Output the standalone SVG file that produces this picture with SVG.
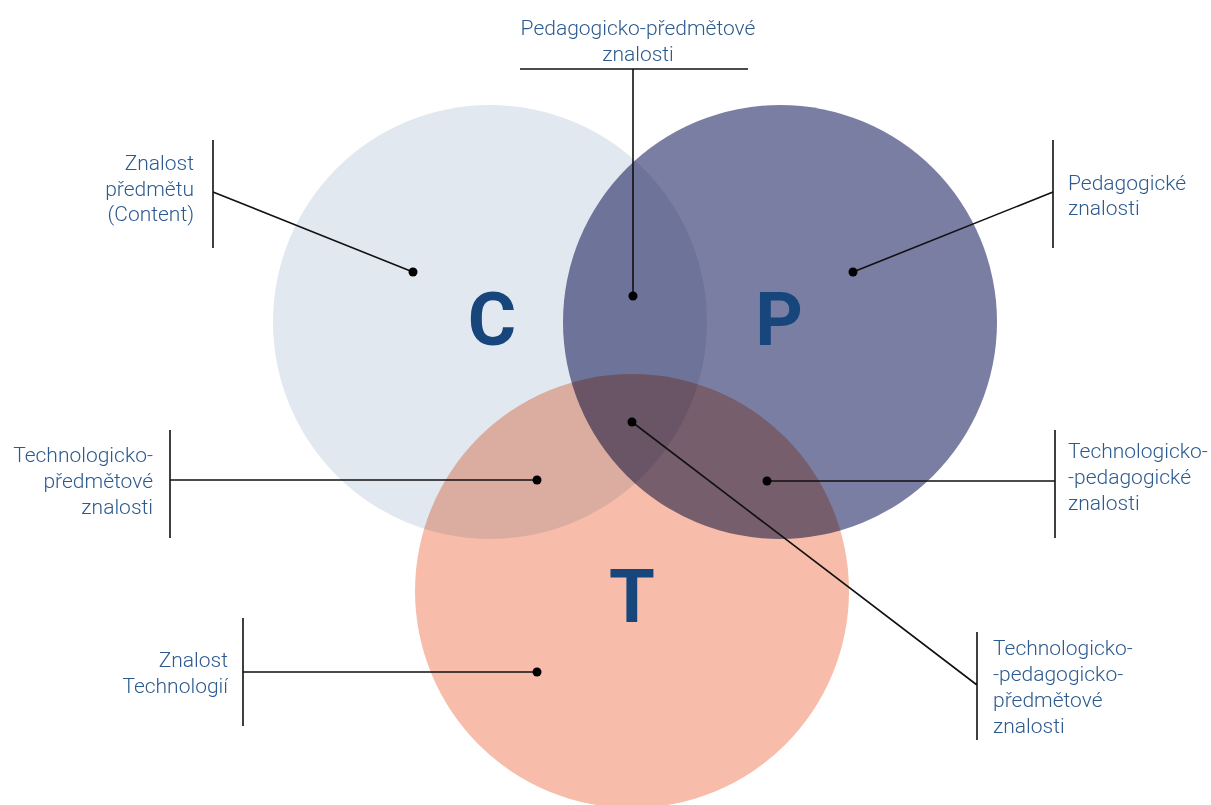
<svg xmlns="http://www.w3.org/2000/svg" width="1211" height="805" viewBox="0 0 1211 805">
  <style>
    .lbl { font-family: Roboto, "Liberation Sans", sans-serif; font-size: 21px; font-weight: 300; fill: #2c5a8f; }
    .big { font-family: Roboto, "Liberation Sans", sans-serif; font-size: 74px; font-weight: 700; fill: #17467c; text-anchor: middle; }
    .ln { stroke: #111; stroke-width: 1.6; fill: none; }
    .circ { mix-blend-mode: multiply; }
    .dot { fill: #000; }
  </style>
  <rect width="1211" height="805" fill="#fff"/>

  <!-- three knowledge circles -->
  <g id="circles" style="isolation:isolate">
    <circle id="circle-c" class="circ" cx="490" cy="322" r="217" fill="#e2e8f0"/>
    <circle id="circle-p" class="circ" cx="780" cy="322" r="217" fill="#7b7ea3"/>
    <circle id="circle-t" class="circ" cx="632" cy="591" r="217" fill="#f7bdaa"/>
  </g>

  <g id="letters">
    <text class="big" x="492" y="345">C</text>
    <text class="big" x="779" y="345">P</text>
    <text class="big" x="632" y="622">T</text>
  </g>

  <!-- leader lines -->
  <g id="connectors">
    <path class="ln" d="M520 69H748M633 69V296"/>
    <path class="ln" d="M213 140V248M213 192L413 272"/>
    <path class="ln" d="M1053 140V248M1053 192L853 272"/>
    <path class="ln" d="M170 430V538M170 480H537"/>
    <path class="ln" d="M1055 430V538M1055 481H767"/>
    <path class="ln" d="M977 632V740M977 685L632 422"/>
    <path class="ln" d="M243 618V726M243 672H537"/>
    <circle class="dot" cx="633" cy="296" r="4.5"/>
    <circle class="dot" cx="413" cy="272" r="4.5"/>
    <circle class="dot" cx="853" cy="272" r="4.5"/>
    <circle class="dot" cx="537" cy="480" r="4.5"/>
    <circle class="dot" cx="767" cy="481" r="4.5"/>
    <circle class="dot" cx="632" cy="422" r="4.5"/>
    <circle class="dot" cx="537" cy="672" r="4.5"/>
  </g>

  <g id="label-cp">
    <text class="lbl" text-anchor="middle" x="638" y="35">Pedagogicko-předmětové</text>
    <text class="lbl" text-anchor="middle" x="638" y="61">znalosti</text>
  </g>
  <g id="label-c">
    <text class="lbl" text-anchor="end" x="194" y="170">Znalost</text>
    <text class="lbl" text-anchor="end" x="194" y="196">předmětu</text>
    <text class="lbl" text-anchor="end" x="194" y="221">(Content)</text>
  </g>
  <g id="label-p">
    <text class="lbl" x="1068" y="190">Pedagogické</text>
    <text class="lbl" x="1068" y="215">znalosti</text>
  </g>
  <g id="label-tc">
    <text class="lbl" text-anchor="end" x="153" y="462">Technologicko-</text>
    <text class="lbl" text-anchor="end" x="153" y="488">předmětové</text>
    <text class="lbl" text-anchor="end" x="153" y="514">znalosti</text>
  </g>
  <g id="label-tp">
    <text class="lbl" x="1068" y="458">Technologicko-</text>
    <text class="lbl" x="1068" y="484">-pedagogické</text>
    <text class="lbl" x="1068" y="510">znalosti</text>
  </g>
  <g id="label-tcp">
    <text class="lbl" x="993" y="655">Technologicko-</text>
    <text class="lbl" x="993" y="681">-pedagogicko-</text>
    <text class="lbl" x="993" y="707">předmětové</text>
    <text class="lbl" x="993" y="733">znalosti</text>
  </g>
  <g id="label-t">
    <text class="lbl" text-anchor="end" x="228" y="667">Znalost</text>
    <text class="lbl" text-anchor="end" x="228" y="693">Technologií</text>
  </g>
</svg>
